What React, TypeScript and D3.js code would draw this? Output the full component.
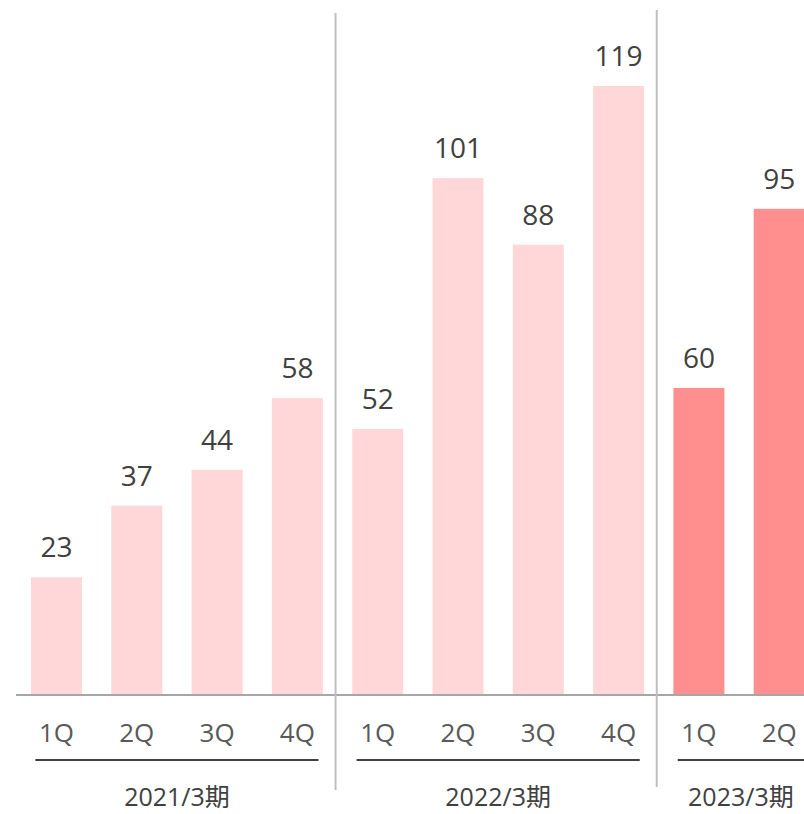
import React from "react";
import * as d3 from "d3";

const quarters = ["1Q", "2Q", "3Q", "4Q", "1Q", "2Q", "3Q", "4Q", "1Q", "2Q"];
const fiscalYears = ["2021/3期", "2022/3期", "2023/3期"];
const values: number[] = [23, 37, 44, 58, 52, 101, 88, 119, 60, 95];
const highlightYear = "2023/3期";

const W = 804;
const H = 814;
const FONT = "'Segoe UI', 'Open Sans', 'Noto Sans CJK JP', sans-serif";

export default function App() {
  const slots = d3.range(fiscalYears.length * 4).map(String);
  const step = 80.3;
  const x = d3
    .scaleBand<string>()
    .domain(slots)
    .range([16.35, 16.35 + step * slots.length])
    .paddingInner(0.365)
    .paddingOuter(0.1825);
  const baseY = 695;
  const y = d3.scaleLinear().domain([0, 119]).range([baseY, 86]);
  const s = x.step();
  const r0 = x.range()[0];

  return (
    <div style={{ position: "absolute", left: 0, top: 0 }}>
      <svg width={W} height={H} style={{ display: "block", fontFamily: FONT }}>
        <rect width={W} height={H} fill="#fff" />
        {values.map((v, i) => {
          const fy = fiscalYears[Math.floor(i / 4)];
          const bx = x(String(i))!;
          return (
            <g key={i}>
              <rect
                x={bx}
                y={y(v)}
                width={x.bandwidth()}
                height={baseY - y(v)}
                fill={fy === highlightYear ? "#FF8F8F" : "#FFD7D9"}
              />
              <text
                x={bx + x.bandwidth() / 2}
                y={y(v) - 20}
                textAnchor="middle"
                fontSize={28}
                fill="#404040"
              >
                {v}
              </text>
            </g>
          );
        })}
        <line x1={16} x2={W} y1={baseY} y2={baseY} stroke="#A6A6A6" strokeWidth={2} />
        {quarters.map((q, i) => (
          <text
            key={"q" + i}
            x={x(String(i))! + x.bandwidth() / 2}
            y={742}
            textAnchor="middle"
            fontSize={26}
            fill="#595959"
          >
            {q}
          </text>
        ))}
        {[1, 2].map((g) => {
          const bx = r0 + g * 4 * s - 2;
          return (
            <line
              key={"sep" + g}
              x1={bx}
              x2={bx}
              y1={g === 1 ? 13 : 10}
              y2={g === 1 ? 790 : 787}
              stroke="#BFBFBF"
              strokeWidth={2}
            />
          );
        })}
        {fiscalYears.map((fy, g) => {
          const gs = r0 + g * 4 * s;
          const ge = gs + 4 * s;
          const ux1 = gs + 19;
          const ux2 = Math.min(ge - 19, W);
          return (
            <g key={fy}>
              <line x1={ux1} x2={ux2} y1={760} y2={760} stroke="#404040" strokeWidth={2} />
              <text
                x={(ux1 + ux2) / 2}
                y={806}
                textAnchor="middle"
                fontSize={25}
                fill="#404040"
              >
                {fy}
              </text>
            </g>
          );
        })}
      </svg>
    </div>
  );
}
